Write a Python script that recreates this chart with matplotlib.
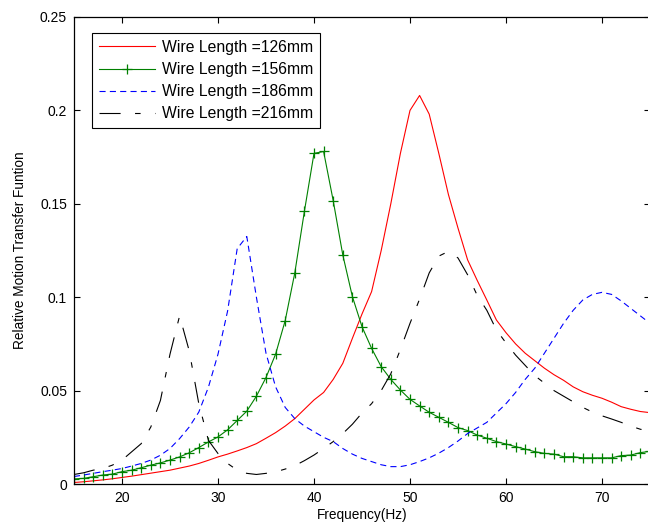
import matplotlib
matplotlib.use("Agg")
import matplotlib.pyplot as plt
from matplotlib.ticker import FuncFormatter

plt.rcParams['font.family'] = ['Liberation Sans', 'DejaVu Sans']

freq = list(range(15, 76))

wire_126 = [0.0008, 0.0012, 0.0017, 0.0022, 0.0028, 0.0035, 0.0042, 0.005, 0.0058, 0.0066,
            0.0074, 0.0085, 0.0096, 0.011, 0.0127, 0.0145, 0.016, 0.0177, 0.0195, 0.0216,
            0.0245, 0.0275, 0.031, 0.035, 0.040, 0.045, 0.049, 0.056, 0.0646, 0.078,
            0.091, 0.103, 0.125, 0.150, 0.177, 0.200, 0.208, 0.198, 0.177, 0.155,
            0.137, 0.12, 0.109, 0.0985, 0.0878, 0.081, 0.075, 0.0700, 0.066, 0.062,
            0.0585, 0.0555, 0.052, 0.0494, 0.0475, 0.0459, 0.0438, 0.0414, 0.040, 0.0388,
            0.0382]

wire_156 = [0.0027, 0.003, 0.0039, 0.0048, 0.0053, 0.0066, 0.0074, 0.0087, 0.0101, 0.0113,
            0.0128, 0.0145, 0.0167, 0.0195, 0.0225, 0.0252, 0.029, 0.034, 0.039, 0.047,
            0.057, 0.0695, 0.0875, 0.113, 0.146, 0.177, 0.178, 0.1517, 0.1226, 0.1003,
            0.0842, 0.0726, 0.0628, 0.056, 0.0503, 0.0453, 0.0418, 0.0384, 0.0357, 0.033,
            0.0302, 0.0286, 0.0262, 0.0245, 0.0227, 0.0214, 0.02, 0.0187, 0.0173, 0.0164,
            0.016, 0.0146, 0.0146, 0.014, 0.014, 0.014, 0.014, 0.0152, 0.0155, 0.0168,
            0.0175]

wire_186 = [0.004, 0.0048, 0.0057, 0.0066, 0.0074, 0.0083, 0.0096, 0.011, 0.0128, 0.0154,
            0.019, 0.0243, 0.0305, 0.0385, 0.0518, 0.0695, 0.0926, 0.126, 0.1325, 0.1,
            0.07, 0.052, 0.041, 0.035, 0.031, 0.028, 0.025, 0.0227, 0.019, 0.016,
            0.0137, 0.012, 0.0103, 0.0093, 0.0093, 0.0103, 0.012, 0.014, 0.0165, 0.0195,
            0.023, 0.027, 0.030, 0.033, 0.038, 0.043, 0.049, 0.056, 0.062, 0.070,
            0.078, 0.086, 0.093, 0.0985, 0.1015, 0.1026, 0.1015, 0.098, 0.094, 0.09,
            0.086]

wire_216 = [0.0051, 0.006, 0.0074, 0.0083, 0.0101, 0.0128, 0.0172, 0.0216, 0.0305, 0.0447,
            0.0695, 0.0900, 0.0713, 0.043, 0.0234, 0.0163, 0.011, 0.0074, 0.0057, 0.0051,
            0.0057, 0.0065, 0.008, 0.0098, 0.0125, 0.0155, 0.019, 0.0227, 0.027, 0.032,
            0.038, 0.043, 0.05, 0.059, 0.072, 0.086, 0.099, 0.113, 0.122, 0.1245,
            0.121, 0.112, 0.101, 0.093, 0.0825, 0.0755, 0.069, 0.0635, 0.058, 0.054,
            0.050, 0.047, 0.044, 0.041, 0.0385, 0.0365, 0.0348, 0.033, 0.031, 0.0293,
            0.0283]

labels = ["Wire Length =126mm", "Wire Length =156mm",
          "Wire Length =186mm", "Wire Length =216mm"]

fig = plt.figure(figsize=(6.48, 5.29), dpi=100)
ax = fig.add_axes([74 / 648, 45 / 529, 576 / 648, 467 / 529])

lw = 0.8
ax.plot(freq, wire_126, color='#ff0000', lw=lw, label=labels[0])
ax.plot(freq, wire_156, color='#008000', lw=lw, marker='+', markersize=7,
        markeredgewidth=0.9, label=labels[1])
ax.plot(freq, wire_186, color='#0000ff', lw=lw, linestyle=(0, (5.5, 3.8)), label=labels[2])
ax.plot(freq, wire_216, color='black', lw=lw,
        linestyle=(0, (19, 13, 5, 13)), label=labels[3])

ax.set_xlim(15, 75)
ax.set_ylim(0, 0.25)
ax.set_xticks([20, 30, 40, 50, 60, 70])
ax.set_yticks([0, 0.05, 0.1, 0.15, 0.2, 0.25])
ax.yaxis.set_major_formatter(FuncFormatter(lambda v, p: '%g' % v))
ax.tick_params(direction='in', top=True, right=True, length=4, width=0.8,
               labelsize=10, pad=5)
for s in ax.spines.values():
    s.set_linewidth(0.9)

ax.set_xlabel("Frequency(Hz)", fontsize=9.8, labelpad=2)
ax.set_ylabel("Relative Motion Transfer Funtion", fontsize=9.8, labelpad=9)

leg = ax.legend(loc='upper left', bbox_to_anchor=(0.031, 0.966), borderaxespad=0,
                fontsize=11.3, handlelength=3.6, handletextpad=0.4,
                labelspacing=0.45, borderpad=0.45, fancybox=False, framealpha=1)
leg.get_frame().set_edgecolor('black')
leg.get_frame().set_linewidth(0.8)

fig.savefig("out.png", dpi=100)
